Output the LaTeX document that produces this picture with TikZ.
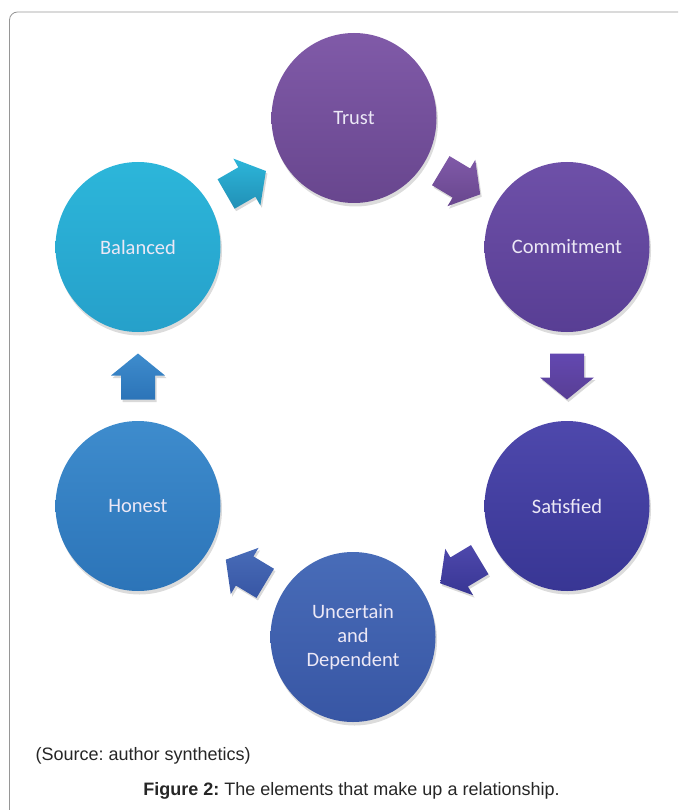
\documentclass[tikz,border=0pt]{standalone}
\usepackage{fontspec}
\setmainfont{Liberation Sans}
\newfontfamily\labelfont{Carlito}
\usetikzlibrary{positioning, calc, shadows, shapes.geometric}
\frenchspacing

\definecolor{tT}{RGB}{128,90,168}\definecolor{bT}{RGB}{104,70,142}
\definecolor{tC}{RGB}{110,80,168}\definecolor{bC}{RGB}{88,62,148}
\definecolor{tS}{RGB}{78,72,172}\definecolor{bS}{RGB}{56,54,148}
\definecolor{tU}{RGB}{72,108,184}\definecolor{bU}{RGB}{56,86,164}
\definecolor{tH}{RGB}{62,140,205}\definecolor{bH}{RGB}{44,116,184}
\definecolor{tB}{RGB}{44,182,218}\definecolor{bB}{RGB}{38,160,202}
\definecolor{labelc}{RGB}{236,232,246}
\definecolor{framec}{RGB}{150,150,150}

\tikzset{
  elem/.style={ellipse, minimum width=165pt, minimum height=170pt, inner sep=0pt,
    text=labelc, align=center, font=\labelfont\fontsize{20.5}{24}\selectfont,
    drop shadow={opacity=.28, shadow xshift=1.5pt, shadow yshift=-3.5pt}},
  pics/cyclearrow/.style={code={
    \path[drop shadow={opacity=.3, shadow xshift=1.5pt, shadow yshift=-2.5pt}, #1]
      (-23,-17) -- (1,-17) -- (1,-27) -- (23,0) -- (1,27) -- (1,17) -- (-23,17) -- cycle;
  }}
}

\begin{document}
\begin{tikzpicture}[x=1pt, y=-1pt]

		\useasboundingbox (0,0) rectangle (678,810);
		\clip (0,0) rectangle (678,810);
		\draw[framec, line width=0.8pt, rounded corners=8pt] (9.5,12) rectangle (700,840);

		\node[elem, top color=tT, bottom color=bT] (T) at (354,118) {Trust};
		\node[elem, top color=tC, bottom color=bC] (C) at (567,247) {Commitment};
		\node[elem, top color=tS, bottom color=bS] (S) at (567,506) {Satisfied};
		\node[elem, top color=tU, bottom color=bU] (U) at (353,637) {Uncertain\\and\\Dependent};
		\node[elem, top color=tH, bottom color=bH] (H) at (138,506) {Honest};
		\node[elem, top color=tB, bottom color=bB] (B) at (138,247) {Balanced};

		\pic[rotate=30]  at ($(B)!0.5!(T)$) {cyclearrow={top color=tB, bottom color=bB!90!black}};
		\pic[rotate=-31] at ($(T)!0.5!(C)$) {cyclearrow={top color=tT, bottom color=bT}};
		\pic[rotate=-90] at ($(C)!0.5!(S)$) {cyclearrow={top color=tC!90!blue, bottom color=bC}};
		\pic[rotate=211] at ($(S)!0.5!(U)$) {cyclearrow={top color=tS, bottom color=bS}};
		\pic[rotate=149] at ($(U)!0.5!(H)$) {cyclearrow={top color=tU, bottom color=bU}};
		\pic[rotate=90]  at ($(H)!0.5!(B)$) {cyclearrow={top color=tH, bottom color=bH}};

		\node[anchor=base west, font=\fontsize{18}{21}\selectfont, text=black!85] (src) at (32,760) {(Source: author synthetics)};
		\node[anchor=base, font=\fontsize{18}{21}\selectfont, text=black!85] (cap) at (351.5,795) {\textbf{Figure 2:} The elements that make up a relationship.};

		\end{tikzpicture}
\end{document}
